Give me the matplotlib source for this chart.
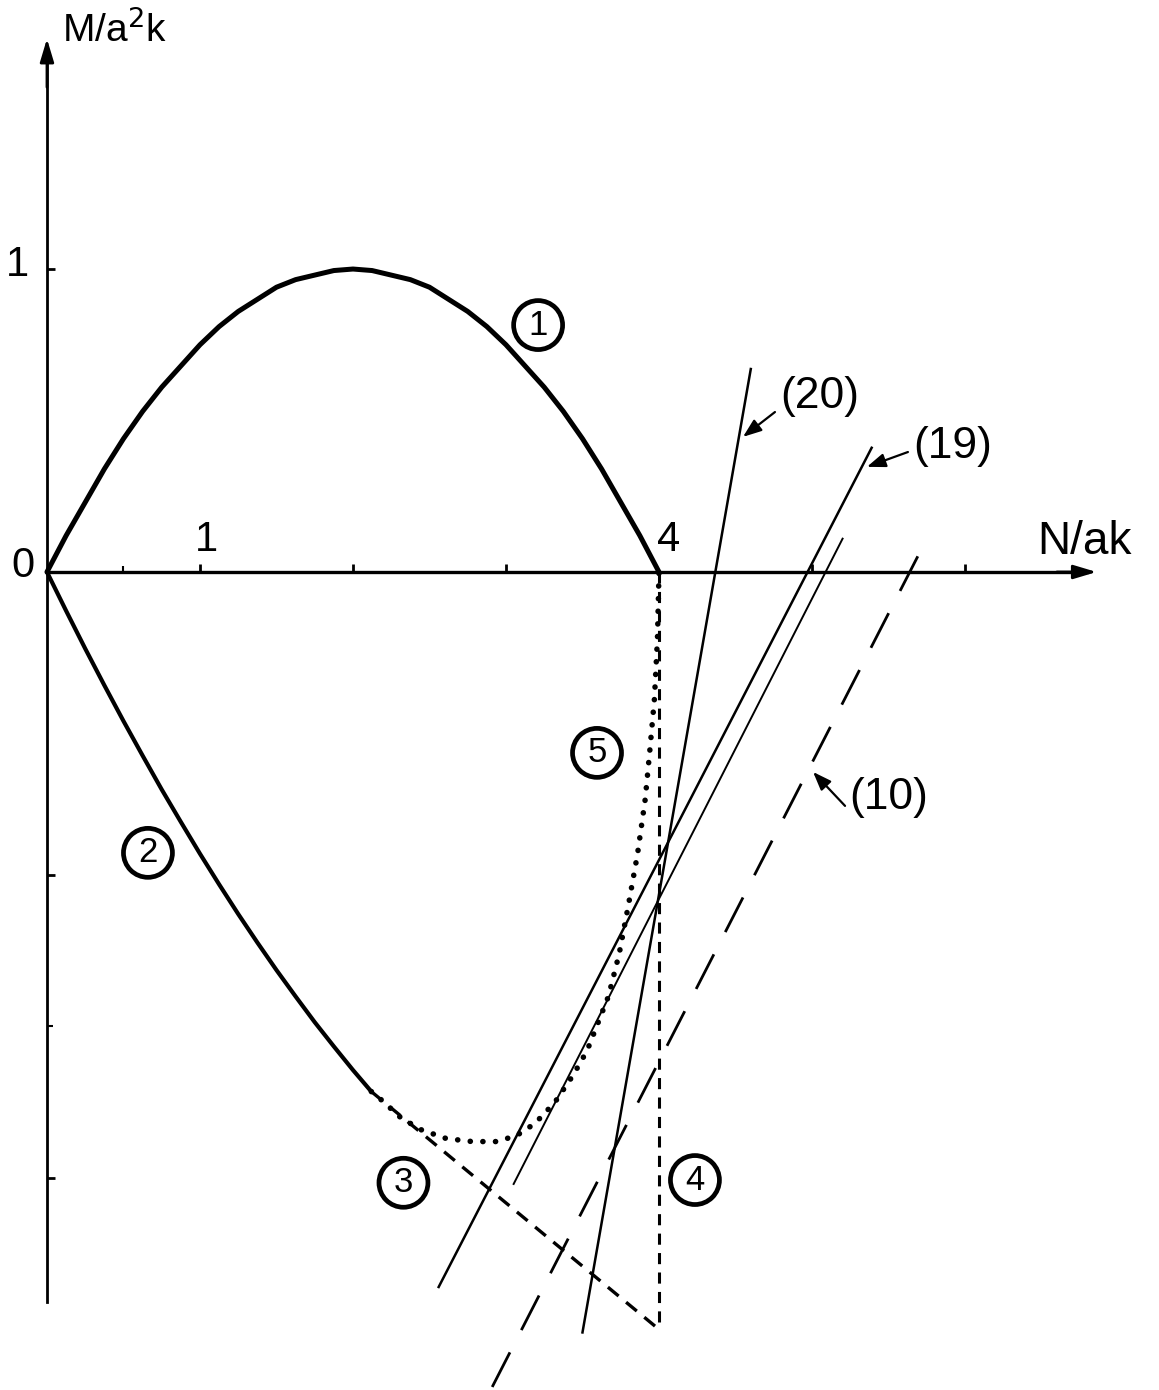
import matplotlib.pyplot as plt
from matplotlib.ticker import FixedLocator, NullFormatter

plt.rcParams['font.family'] = ['Liberation Sans', 'DejaVu Sans']
plt.rcParams['lines.scale_dashes'] = False

# branch 1: upper boundary, M/a^2k >= 0
n1 = [0, 0.125, 0.25, 0.375, 0.5, 0.625, 0.75, 0.875, 1.0, 1.125, 1.25, 1.375, 1.5, 1.625,
      1.75, 1.875, 2.0, 2.125, 2.25, 2.375, 2.5, 2.625, 2.75, 2.875, 3.0, 3.125, 3.25,
      3.375, 3.5, 3.625, 3.75, 3.875, 4.0]
m1 = [0, 0.12, 0.23, 0.34, 0.44, 0.53, 0.61, 0.68, 0.75, 0.81, 0.86, 0.90, 0.94, 0.965,
      0.98, 0.995, 1.0, 0.995, 0.98, 0.965, 0.94, 0.90, 0.86, 0.81, 0.75, 0.68, 0.61,
      0.53, 0.44, 0.34, 0.23, 0.12, 0]

# branch 2: lower boundary from the origin
n2 = [0, 0.125, 0.25, 0.375, 0.5, 0.625, 0.75, 0.875, 1.0, 1.125, 1.25, 1.375, 1.5,
      1.625, 1.75, 1.875, 2.0, 2.12]
m2 = [0, -0.128, -0.253, -0.374, -0.492, -0.606, -0.718, -0.825, -0.93, -1.031,
      -1.129, -1.223, -1.314, -1.401, -1.486, -1.566, -1.644, -1.715]

# branch 3 (dashed) and 4 (vertical dashed)
n3 = [2.12, 4.0]
m3 = [-1.715, -2.50]
n4 = [4.0, 4.0]
m4 = [0, -2.50]

# branch 5 (dotted)
n5 = [2.12, 2.18, 2.31, 2.44, 2.61, 2.78, 2.94, 3.07, 3.19, 3.32, 3.44, 3.53,
      3.60, 3.67, 3.74, 3.80, 3.86, 3.91, 3.94, 3.97, 3.99, 4.0]
m5 = [-1.715, -1.74, -1.80, -1.84, -1.87, -1.88, -1.88, -1.86, -1.82, -1.75, -1.66, -1.58,
      -1.49, -1.40, -1.26, -1.10, -0.93, -0.75, -0.59, -0.42, -0.22, 0]

# straight lines (20), (19), (10)
n20 = [3.50, 4.60]
m20 = [-2.51, 0.67]
n19 = [2.56, 5.39]
m19 = [-2.36, 0.41]
n19b = [3.05, 5.20]
m19b = [-2.02, 0.11]
n10 = [2.91, 5.71]
m10 = [-2.69, 0.07]

fig = plt.figure(figsize=(11.59, 13.90), dpi=100)
ax = fig.add_axes([0, 0, 1, 1])
ax.set_xlim(-0.307, 7.268)
ax.set_ylim(-2.700, 1.888)

# axes through the origin
for side in ('top', 'right'):
    ax.spines[side].set_visible(False)
ax.spines['left'].set_position(('data', 0))
ax.spines['bottom'].set_position(('data', 0))
ax.spines['left'].set_bounds(-2.41, 1.70)
ax.spines['bottom'].set_bounds(0, 6.80)
ax.spines['left'].set_linewidth(2.0)
ax.spines['bottom'].set_linewidth(2.4)
ax.xaxis.set_major_locator(FixedLocator([1, 2, 3, 5, 6]))
ax.xaxis.set_minor_locator(FixedLocator([0.5]))
ax.yaxis.set_major_locator(FixedLocator([1, -1, -2]))
ax.yaxis.set_minor_locator(FixedLocator([-1.5]))
for axis in (ax.xaxis, ax.yaxis):
    axis.set_major_formatter(NullFormatter())
    axis.set_minor_formatter(NullFormatter())
ax.tick_params(which='major', direction='in', length=6, width=2)
ax.tick_params(which='minor', direction='in', length=4, width=1.5)

arrow = dict(arrowstyle='-|>,head_length=1.0,head_width=0.3', lw=2, color='black',
             mutation_scale=14, shrinkA=0, shrinkB=0)
ax.annotate('', xy=(6.86, 0), xytext=(6.6, 0), arrowprops=arrow)
ax.annotate('', xy=(0, 1.76), xytext=(0, 1.6), arrowprops=arrow)

ax.plot(n1, m1, color='black', lw=3.6, solid_capstyle='round', solid_joinstyle='round')
ax.plot(n2, m2, color='black', lw=3.0, solid_capstyle='round', solid_joinstyle='round')
ax.plot(n3, m3, color='black', lw=2.4, linestyle=(0, (10, 7)))
ax.plot(n4, m4, color='black', lw=2.2, linestyle=(0, (8, 6)))
ax.plot(n5, m5, color='black', lw=4.0, linestyle=(0, (0.1, 9)), dash_capstyle='round')

ax.plot(n20, m20, color='black', lw=1.8)
ax.plot(n19, m19, color='black', lw=1.8)
ax.plot(n19b, m19b, color='black', lw=1.4)
ax.plot(n10, m10, color='black', lw=2.0, linestyle=(0, (28, 18)))

# axis labels and tick numbers
ax.text(0.1, 1.79, 'M/a$^2$k', fontsize=28, ha='left', va='center')
ax.text(6.78, 0.10, 'N/ak', fontsize=33, ha='center', va='center')
ax.text(-0.16, 0.02, '0', fontsize=30, ha='center', va='center')
ax.text(-0.19, 1.013, '1', fontsize=30, ha='center', va='center')
ax.text(1.04, 0.106, '1', fontsize=30, ha='center', va='center')
ax.text(4.06, 0.106, '4', fontsize=30, ha='center', va='center')

# circled branch numbers
circled = [('1', 3.21, 0.815), ('2', 0.66, -0.927), ('3', 2.33, -2.016),
           ('4', 4.235, -2.007), ('5', 3.595, -0.597)]
for label, x, y in circled:
    ax.text(x, y, label, fontsize=25, ha='center', va='center',
            bbox=dict(boxstyle='circle,pad=0.23', fc='none', ec='black', lw=3.4))

# equation numbers with pointers
pointer = dict(arrowstyle='-|>,head_length=0.8,head_width=0.3', lw=1.6, color='black',
               mutation_scale=14, shrinkA=0, shrinkB=0)
ax.annotate('', xy=(4.549, 0.446), xytext=(4.758, 0.528), arrowprops=pointer)
ax.text(5.05, 0.578, '(20)', fontsize=32, ha='center', va='center')
ax.annotate('', xy=(5.359, 0.347), xytext=(5.627, 0.396), arrowprops=pointer)
ax.text(5.92, 0.413, '(19)', fontsize=32, ha='center', va='center')
ax.annotate('', xy=(5.007, -0.660), xytext=(5.216, -0.772), arrowprops=pointer)
ax.text(5.50, -0.743, '(10)', fontsize=32, ha='center', va='center')

fig.savefig('out.png', dpi=100)
